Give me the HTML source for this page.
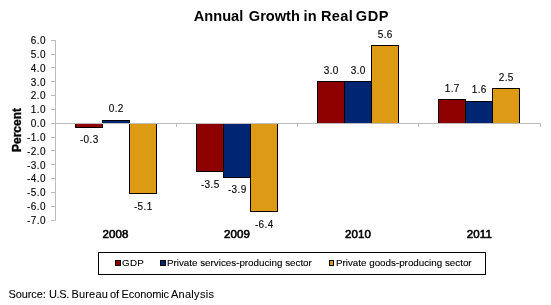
<!DOCTYPE html>
<html><head><meta charset="utf-8"><style>
html,body{margin:0;padding:0;background:#fff;width:551px;height:305px;overflow:hidden}
svg{display:block;will-change:transform}
text{font-family:"Liberation Sans", sans-serif}
.d{stroke:#000;stroke-width:0.12px}
.d2{stroke:#000;stroke-width:0.08px}
</style></head><body>
<svg width="551" height="305" viewBox="0 0 551 305">
<line x1="51" y1="40.5" x2="55" y2="40.5" stroke="#bdbdbd" stroke-width="1"/>
<text class="d" x="46.2" y="43.5" text-anchor="end" font-size="10" letter-spacing="0.5" fill="#000">6.0</text>
<line x1="51" y1="54.5" x2="55" y2="54.5" stroke="#bdbdbd" stroke-width="1"/>
<text class="d" x="46.2" y="57.5" text-anchor="end" font-size="10" letter-spacing="0.5" fill="#000">5.0</text>
<line x1="51" y1="67.5" x2="55" y2="67.5" stroke="#bdbdbd" stroke-width="1"/>
<text class="d" x="46.2" y="71.5" text-anchor="end" font-size="10" letter-spacing="0.5" fill="#000">4.0</text>
<line x1="51" y1="81.5" x2="55" y2="81.5" stroke="#bdbdbd" stroke-width="1"/>
<text class="d" x="46.2" y="85.5" text-anchor="end" font-size="10" letter-spacing="0.5" fill="#000">3.0</text>
<line x1="51" y1="95.5" x2="55" y2="95.5" stroke="#bdbdbd" stroke-width="1"/>
<text class="d" x="46.2" y="98.5" text-anchor="end" font-size="10" letter-spacing="0.5" fill="#000">2.0</text>
<line x1="51" y1="109.5" x2="55" y2="109.5" stroke="#bdbdbd" stroke-width="1"/>
<text class="d" x="46.2" y="112.5" text-anchor="end" font-size="10" letter-spacing="0.5" fill="#000">1.0</text>
<line x1="51" y1="123.5" x2="55" y2="123.5" stroke="#bdbdbd" stroke-width="1"/>
<text class="d" x="46.2" y="126.5" text-anchor="end" font-size="10" letter-spacing="0.5" fill="#000">0.0</text>
<line x1="51" y1="137.5" x2="55" y2="137.5" stroke="#bdbdbd" stroke-width="1"/>
<text class="d" x="46.2" y="140.5" text-anchor="end" font-size="10" letter-spacing="0.5" fill="#000">-1.0</text>
<line x1="51" y1="150.5" x2="55" y2="150.5" stroke="#bdbdbd" stroke-width="1"/>
<text class="d" x="46.2" y="154.5" text-anchor="end" font-size="10" letter-spacing="0.5" fill="#000">-2.0</text>
<line x1="51" y1="164.5" x2="55" y2="164.5" stroke="#bdbdbd" stroke-width="1"/>
<text class="d" x="46.2" y="168.5" text-anchor="end" font-size="10" letter-spacing="0.5" fill="#000">-3.0</text>
<line x1="51" y1="178.5" x2="55" y2="178.5" stroke="#bdbdbd" stroke-width="1"/>
<text class="d" x="46.2" y="181.5" text-anchor="end" font-size="10" letter-spacing="0.5" fill="#000">-4.0</text>
<line x1="51" y1="192.5" x2="55" y2="192.5" stroke="#bdbdbd" stroke-width="1"/>
<text class="d" x="46.2" y="195.5" text-anchor="end" font-size="10" letter-spacing="0.5" fill="#000">-5.0</text>
<line x1="51" y1="206.5" x2="55" y2="206.5" stroke="#bdbdbd" stroke-width="1"/>
<text class="d" x="46.2" y="209.5" text-anchor="end" font-size="10" letter-spacing="0.5" fill="#000">-6.0</text>
<line x1="51" y1="220.5" x2="55" y2="220.5" stroke="#bdbdbd" stroke-width="1"/>
<text class="d" x="46.2" y="223.5" text-anchor="end" font-size="10" letter-spacing="0.5" fill="#000">-7.0</text>
<line x1="55.5" y1="40" x2="55.5" y2="221" stroke="#bdbdbd" stroke-width="1"/>
<rect x="75.5" y="123.5" width="27" height="4" fill="#8e0000" stroke="#000" stroke-width="1"/>
<rect x="102.5" y="120.5" width="27" height="3" fill="#002673" stroke="#000" stroke-width="1"/>
<rect x="129.5" y="123.5" width="27" height="70" fill="#dd9b15" stroke="#000" stroke-width="1"/>
<rect x="196.5" y="123.5" width="27" height="48" fill="#8e0000" stroke="#000" stroke-width="1"/>
<rect x="223.5" y="123.5" width="27" height="54" fill="#002673" stroke="#000" stroke-width="1"/>
<rect x="250.5" y="123.5" width="27" height="88" fill="#dd9b15" stroke="#000" stroke-width="1"/>
<rect x="317.5" y="81.5" width="27" height="42" fill="#8e0000" stroke="#000" stroke-width="1"/>
<rect x="344.5" y="81.5" width="27" height="42" fill="#002673" stroke="#000" stroke-width="1"/>
<rect x="371.5" y="45.5" width="27" height="78" fill="#dd9b15" stroke="#000" stroke-width="1"/>
<rect x="438.5" y="99.5" width="27" height="24" fill="#8e0000" stroke="#000" stroke-width="1"/>
<rect x="465.5" y="101.5" width="27" height="22" fill="#002673" stroke="#000" stroke-width="1"/>
<rect x="492.5" y="88.5" width="27" height="35" fill="#dd9b15" stroke="#000" stroke-width="1"/>
<line x1="51" y1="123.5" x2="541.0" y2="123.5" stroke="#bdbdbd" stroke-width="1"/>
<line x1="55.5" y1="123" x2="55.5" y2="127" stroke="#bdbdbd" stroke-width="1"/>
<line x1="176.5" y1="123" x2="176.5" y2="127" stroke="#bdbdbd" stroke-width="1"/>
<line x1="297.5" y1="123" x2="297.5" y2="127" stroke="#bdbdbd" stroke-width="1"/>
<line x1="418.5" y1="123" x2="418.5" y2="127" stroke="#bdbdbd" stroke-width="1"/>
<line x1="540.5" y1="123" x2="540.5" y2="127" stroke="#bdbdbd" stroke-width="1"/>
<text class="d" x="89.3" y="143" text-anchor="middle" font-size="10" letter-spacing="0.4" fill="#000">-0.3</text>
<text class="d" x="116.3" y="112" text-anchor="middle" font-size="10" letter-spacing="0.4" fill="#000">0.2</text>
<text class="d" x="143.3" y="210" text-anchor="middle" font-size="10" letter-spacing="0.4" fill="#000">-5.1</text>
<text class="d" x="210.3" y="188" text-anchor="middle" font-size="10" letter-spacing="0.4" fill="#000">-3.5</text>
<text class="d" x="237.3" y="193" text-anchor="middle" font-size="10" letter-spacing="0.4" fill="#000">-3.9</text>
<text class="d" x="264.3" y="228" text-anchor="middle" font-size="10" letter-spacing="0.4" fill="#000">-6.4</text>
<text class="d" x="331.3" y="74" text-anchor="middle" font-size="10" letter-spacing="0.4" fill="#000">3.0</text>
<text class="d" x="358.3" y="74" text-anchor="middle" font-size="10" letter-spacing="0.4" fill="#000">3.0</text>
<text class="d" x="385.3" y="38" text-anchor="middle" font-size="10" letter-spacing="0.4" fill="#000">5.6</text>
<text class="d" x="452.3" y="92" text-anchor="middle" font-size="10" letter-spacing="0.4" fill="#000">1.7</text>
<text class="d" x="479.3" y="93" text-anchor="middle" font-size="10" letter-spacing="0.4" fill="#000">1.6</text>
<text class="d" x="506.3" y="81" text-anchor="middle" font-size="10" letter-spacing="0.4" fill="#000">2.5</text>
<text x="115.6" y="238" text-anchor="middle" font-size="11.5" letter-spacing="0.1" fill="#000" stroke="#000" stroke-width="0.6">2008</text>
<text x="236.9" y="238" text-anchor="middle" font-size="11.5" letter-spacing="0.1" fill="#000" stroke="#000" stroke-width="0.6">2009</text>
<text x="358.1" y="238" text-anchor="middle" font-size="11.5" letter-spacing="0.1" fill="#000" stroke="#000" stroke-width="0.6">2010</text>
<text x="479.4" y="238" text-anchor="middle" font-size="11.5" letter-spacing="0.1" fill="#000" stroke="#000" stroke-width="0.6">2011</text>
<text y="20.6" font-size="14.6" font-weight="bold" fill="#000"><tspan x="193.8" letter-spacing="0.0">Annual</tspan><tspan x="248.8" letter-spacing="0.0">Growth</tspan><tspan x="303.6" letter-spacing="0.0">in</tspan><tspan x="321.0" letter-spacing="0.3">Real</tspan><tspan x="355.8" letter-spacing="0.5">GDP</tspan></text>
<text transform="translate(20.6,130) rotate(-90)" text-anchor="middle" font-size="12" font-weight="bold" fill="#000" stroke="#000" stroke-width="0.35">Percent</text>
<rect x="98.5" y="252.5" width="387" height="22" fill="#fff" stroke="#000" stroke-width="1"/>
<rect x="115.5" y="260.5" width="5" height="5" fill="#8e0000" stroke="#000" stroke-width="1"/>
<text class="d" x="122" y="266" font-size="9.8" letter-spacing="0.3" fill="#000">GDP</text>
<rect x="160.5" y="260.5" width="5" height="5" fill="#002673" stroke="#000" stroke-width="1"/>
<text class="d" x="167" y="266" font-size="9.8" letter-spacing="0.0" fill="#000">Private services-producing sector</text>
<rect x="329.5" y="260.5" width="4" height="5" fill="#dd9b15" stroke="#000" stroke-width="1"/>
<text class="d" x="336" y="266" font-size="9.8" letter-spacing="0.0" fill="#000">Private goods-producing sector</text>
<text class="d2" y="298" font-size="11" fill="#000"><tspan x="8.5" letter-spacing="-0.1">Source:</tspan><tspan x="48.9" letter-spacing="-0.3">U.S.</tspan><tspan x="71.4" letter-spacing="0.2">Bureau</tspan><tspan x="110.0" letter-spacing="0.0">of</tspan><tspan x="121.5" letter-spacing="-0.1">Economic</tspan><tspan x="170.9" letter-spacing="0.3">Analysis</tspan></text>
</svg>
</body></html>
